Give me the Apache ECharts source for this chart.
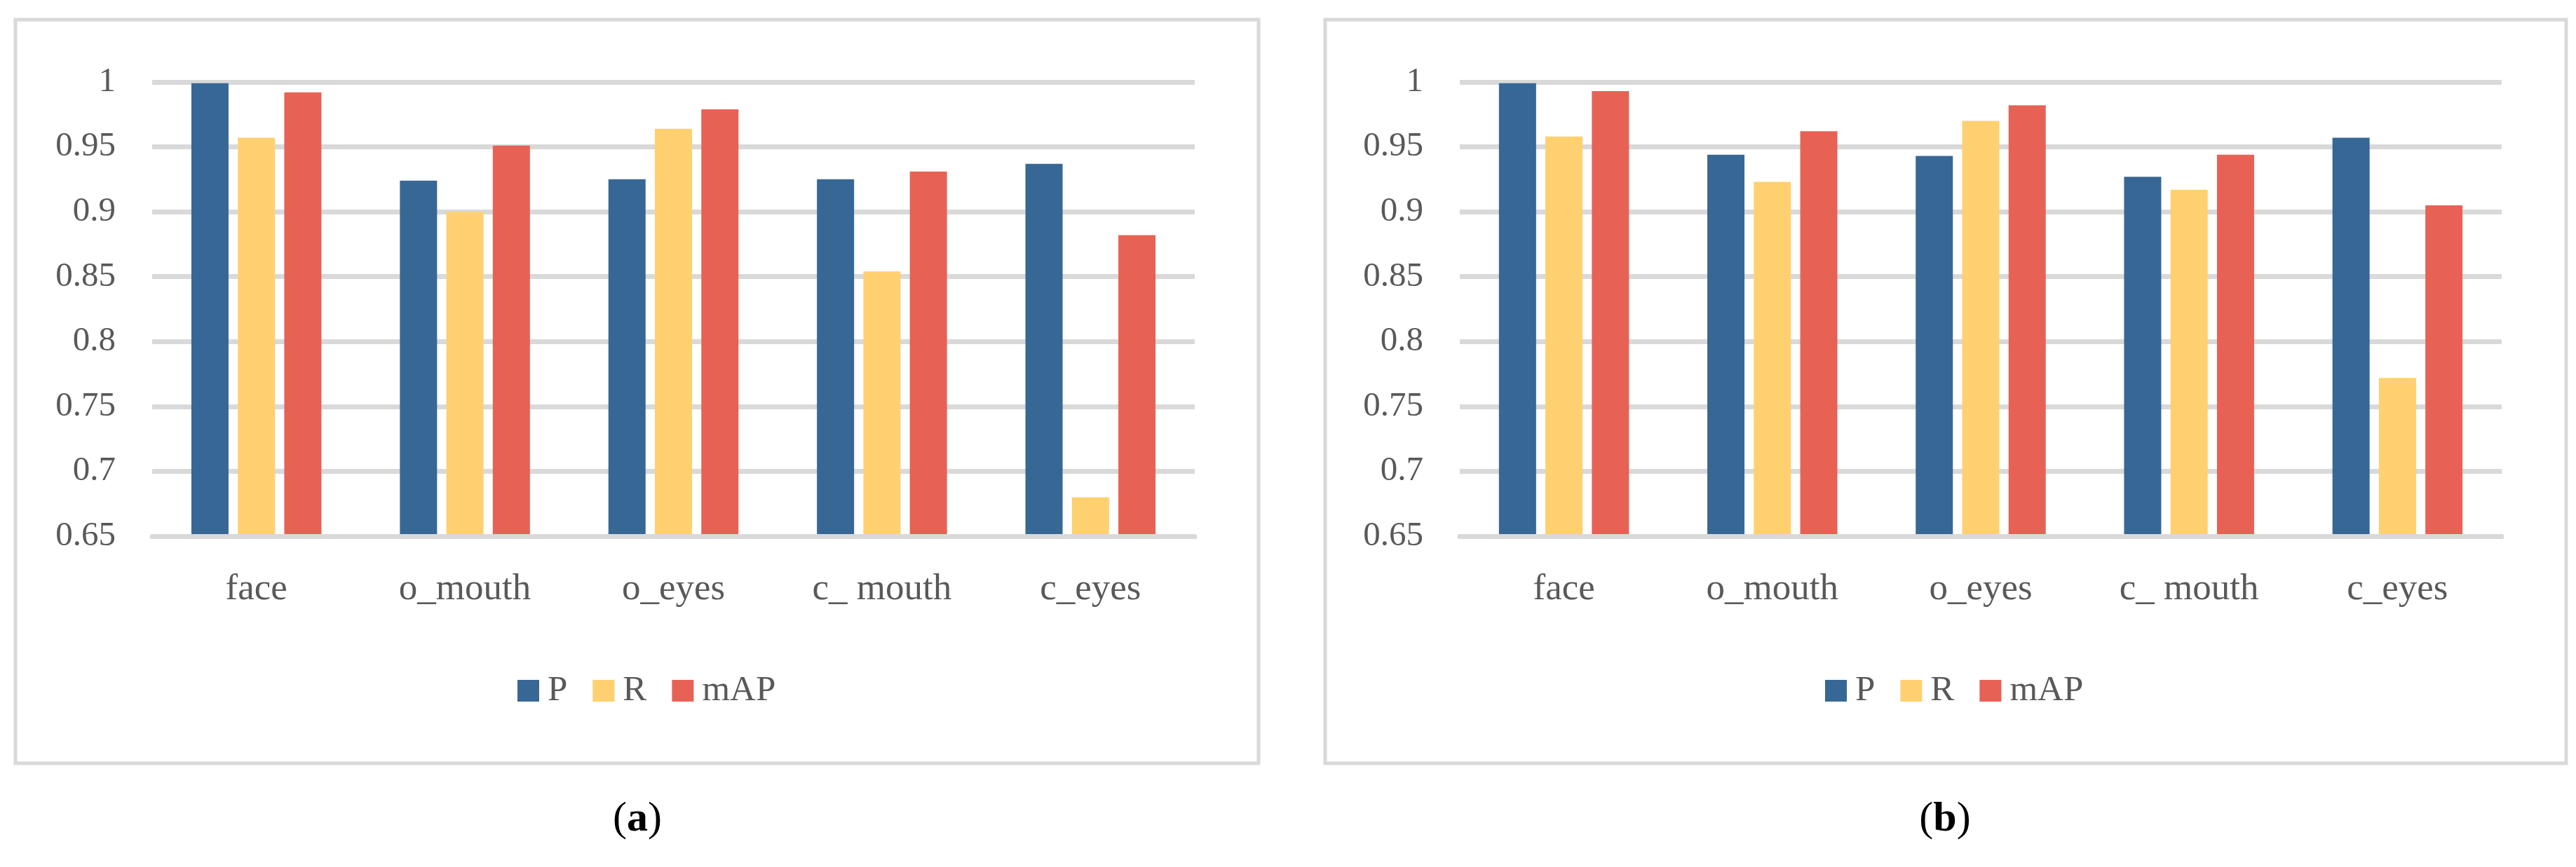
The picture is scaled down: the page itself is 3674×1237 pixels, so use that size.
<!DOCTYPE html>
<html>
<head>
<meta charset="utf-8">
<script src="https://cdn.jsdelivr.net/npm/echarts@6/dist/echarts.min.js"></script>
<style>
html,body{margin:0;padding:0;background:#fff;}
#c{width:3674px;height:1237px;}
</style>
</head>
<body>
<div id="c"></div>
<script>
const categories = ['face', 'o_mouth', 'o_eyes', 'c_ mouth', 'c_eyes'];
const seriesNames = ['P', 'R', 'mAP'];
const aP   = [0.999, 0.924, 0.925, 0.925, 0.937];
const aR   = [0.957, 0.900, 0.964, 0.854, 0.680];
const aMAP = [0.992, 0.951, 0.979, 0.931, 0.882];
const bP   = [0.999, 0.944, 0.943, 0.927, 0.957];
const bR   = [0.958, 0.923, 0.970, 0.917, 0.772];
const bMAP = [0.993, 0.962, 0.982, 0.944, 0.905];
const yTicks = {min: 0.65, max: 1, interval: 0.05};
const captions = ['a', 'b'];

const colors = ['#376795', '#FFD06F', '#E76254'];
const font = '"Liberation Serif", "DejaVu Serif", serif';
const txt = '#595959';
const gridCol = '#d9d9d9';

const chart = echarts.init(document.getElementById('c'));

function xAxis(i) {
  return {
    type: 'category', gridIndex: i, data: categories, z: 3,
    axisLine: {show: true, lineStyle: {color: gridCol, width: 7}},
    axisTick: {show: false},
    axisLabel: {color: txt, fontFamily: font, fontSize: 53, margin: 50}
  };
}
function yAxis(i) {
  return {
    type: 'value', gridIndex: i, min: yTicks.min, max: yTicks.max, interval: yTicks.interval,
    axisLine: {show: false}, axisTick: {show: false},
    splitLine: {show: true, lineStyle: {color: gridCol, width: 7}},
    axisLabel: {color: txt, fontFamily: font, fontSize: 49, margin: 52}
  };
}
function bars(i, arrs) {
  return arrs.map((d, k) => ({
    name: seriesNames[k], type: 'bar', xAxisIndex: i, yAxisIndex: i,
    data: d, barWidth: 53, barGap: '25%',
    itemStyle: {color: colors[k]}, silent: true
  }));
}
function legend(left) {
  return {
    data: seriesNames, left: left, top: 955, icon: 'rect',
    itemWidth: 31, itemHeight: 31, itemGap: 36,
    textStyle: {color: txt, fontFamily: font, fontSize: 51, padding: [0,0,0,7]},
    selectedMode: false
  };
}
function caption(x, letter) {
  return {
    type: 'text', x: x, y: 1169,
    style: {
      text: '{n|(}{b|' + letter + '}{n|)}',
      align: 'center', verticalAlign: 'middle',
      rich: {
        n: {fontFamily: font, fontSize: 60, fill: '#000', fontWeight: 'normal'},
        b: {fontFamily: font, fontSize: 60, fill: '#000', fontWeight: 'bold'}
      }
    }
  };
}

chart.setOption({
  animation: false,
  backgroundColor: '#fff',
  grid: [
    {left: 217, top: 117, width: 1487, height: 648},
    {left: 2082, top: 117, width: 1486, height: 648}
  ],
  xAxis: [xAxis(0), xAxis(1)],
  yAxis: [yAxis(0), yAxis(1)],
  legend: [legend(733), legend(2598)],
  series: [...bars(0, [aP, aR, aMAP]), ...bars(1, [bP, bR, bMAP])],
  graphic: [
    {type: 'rect', shape: {x: 22, y: 28, width: 1773, height: 1061},
     style: {fill: 'none', stroke: gridCol, lineWidth: 5}, z: -1},
    {type: 'rect', shape: {x: 1890, y: 28, width: 1770, height: 1061},
     style: {fill: 'none', stroke: gridCol, lineWidth: 5}, z: -1},
    caption(909, captions[0]),
    caption(2774, captions[1])
  ]
});
</script>
</body>
</html>
